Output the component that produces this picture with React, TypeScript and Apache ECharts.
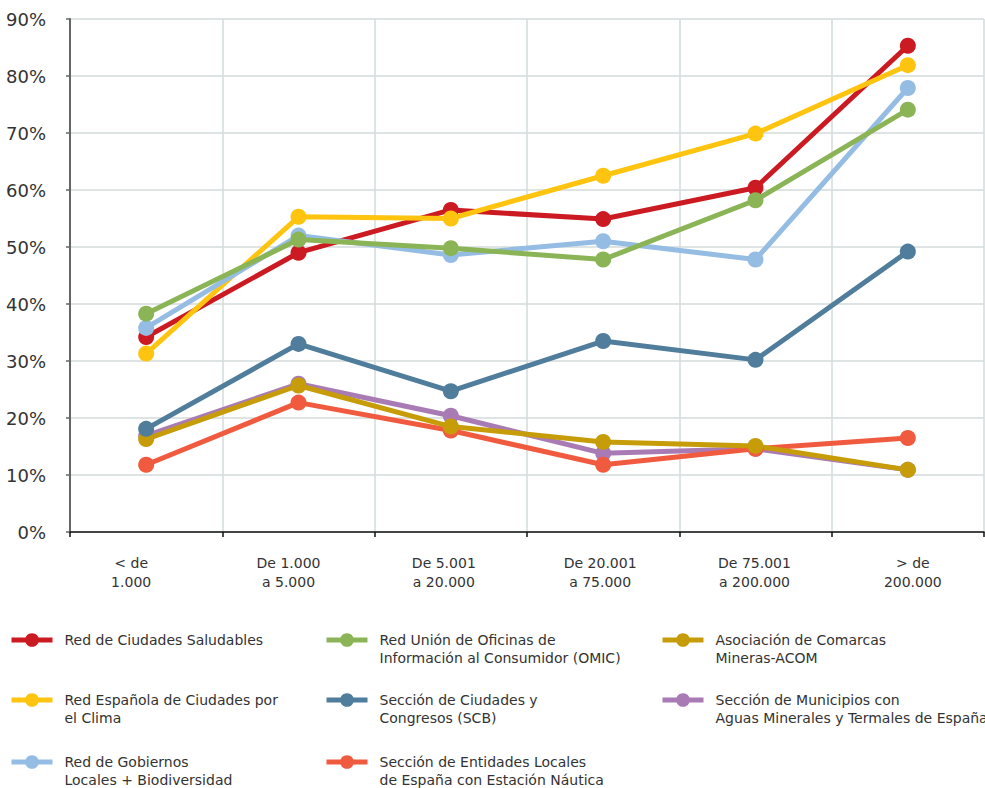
import React, { useEffect, useRef } from "react";
import * as echarts from "echarts";

const categories = [
  "< de\n1.000",
  "De 1.000\na 5.000",
  "De 5.001\na 20.000",
  "De 20.001\na 75.000",
  "De 75.001\na 200.000",
  "> de\n200.000",
];

const saludables = [34.2, 49.0, 56.5, 54.9, 60.4, 85.3];
const clima = [31.3, 55.3, 55.0, 62.5, 69.9, 81.9];
const biodiversidad = [35.8, 52.0, 48.6, 51.0, 47.8, 77.9];
const omic = [38.3, 51.3, 49.8, 47.8, 58.2, 74.1];
const congresos = [18.1, 33.0, 24.7, 33.5, 30.2, 49.2];
const nautica = [11.8, 22.7, 17.8, 11.8, 14.6, 16.5];
const acom = [16.3, 25.7, 18.5, 15.8, 15.1, 10.9];
const termales = [16.9, 26.0, 20.4, 13.8, 14.6, 10.9];

const names = {
  saludables: "Red de Ciudades Saludables",
  clima: "Red Española de Ciudades por el Clima",
  biodiversidad: "Red de Gobiernos Locales + Biodiversidad",
  omic: "Red Unión de Oficinas de Información al Consumidor (OMIC)",
  congresos: "Sección de Ciudades y Congresos (SCB)",
  nautica: "Sección de Entidades Locales de España con Estación Náutica",
  acom: "Asociación de Comarcas Mineras-ACOM",
  termales: "Sección de Municipios con Aguas Minerales y Termales de España",
};

const legendLines: Record<string, string[]> = {
  [names.saludables]: ["Red de Ciudades Saludables"],
  [names.clima]: ["Red Española de Ciudades por", "el Clima"],
  [names.biodiversidad]: ["Red de Gobiernos", "Locales + Biodiversidad"],
  [names.omic]: ["Red Unión de Oficinas de", "Información al Consumidor (OMIC)"],
  [names.congresos]: ["Sección de Ciudades y", "Congresos (SCB)"],
  [names.nautica]: ["Sección de Entidades Locales", "de España con Estación Náutica"],
  [names.acom]: ["Asociación de Comarcas", "Mineras-ACOM"],
  [names.termales]: ["Sección de Municipios con", "Aguas Minerales y Termales de España"],
};

const colors: Record<string, string> = {
  [names.saludables]: "#CB1A21",
  [names.clima]: "#FFC40F",
  [names.biodiversidad]: "#95BDE4",
  [names.omic]: "#8BB456",
  [names.congresos]: "#4F7D9B",
  [names.nautica]: "#F05B3F",
  [names.acom]: "#C79C09",
  [names.termales]: "#A97BB4",
};

const seriesData: [string, number[]][] = [
  [names.termales, termales],
  [names.nautica, nautica],
  [names.acom, acom],
  [names.congresos, congresos],
  [names.saludables, saludables],
  [names.clima, clima],
  [names.biodiversidad, biodiversidad],
  [names.omic, omic],
];

// legend placement: [name, left, iconCenterY]
const legendPlaces: [string, number, number][] = [
  [names.saludables, 9, 640],
  [names.clima, 9, 700],
  [names.biodiversidad, 9, 762],
  [names.omic, 324, 640],
  [names.congresos, 324, 700],
  [names.nautica, 324, 762],
  [names.acom, 660, 640],
  [names.termales, 660, 700],
];

// horizontal nudge of each category label (px), as in the reference
const labelShift = [-15, -10, -7, -3, -1, 5];

const FONT = "DejaVu Sans";
const LH = 18;

export default function App() {
  const ref = useRef<HTMLDivElement>(null);
  useEffect(() => {
    if (!ref.current) return;
    const chart = echarts.init(ref.current, undefined, { renderer: "svg" });
    const legends = legendPlaces.map(([name, left, cy]) => {
      const lines = legendLines[name];
      const text = lines.length > 1 ? "\n" + lines.join("\n") : lines[0];
      const h = lines.length > 1 ? LH * 3 : LH;
      return {
        data: [name],
        left,
        top: cy - h / 2,
        padding: 0,
        itemWidth: 41,
        itemHeight: 17,
        itemGap: 0,
        selectedMode: false,
        lineStyle: { width: 5 },
        formatter: () => text,
        textStyle: {
          fontFamily: FONT,
          fontSize: 14,
          lineHeight: LH,
          color: "#333",
          padding: [0, 0, 0, 7],
        },
      };
    });
    const rich: Record<string, any> = {};
    labelShift.forEach((s, i) => {
      rich["c" + i] = {
        fontFamily: FONT,
        fontSize: 14,
        lineHeight: 19,
        color: "#333",
        padding: s < 0 ? [0, -2 * s, 0, 0] : [0, 0, 0, 2 * s],
      };
    });
    chart.setOption({
      animation: false,
      textStyle: { fontFamily: FONT },
      grid: { left: 70, right: 1, top: 19, bottom: 256, containLabel: false },
      legend: legends,
      xAxis: {
        type: "category",
        data: categories,
        boundaryGap: true,
        axisLine: { lineStyle: { color: "#111", width: 1.5 } },
        axisTick: { show: true, length: 5, lineStyle: { color: "#111", width: 1.5 } },
        axisLabel: {
          interval: 0,
          margin: 21,
          fontSize: 14,
          lineHeight: 19,
          color: "#333",
          fontFamily: FONT,
          formatter: (v: string, i: number) =>
            v
              .split("\n")
              .map((l) => `{c${i}|${l}}`)
              .join("\n"),
          rich,
        },
        splitLine: { show: true, lineStyle: { color: "#D3DBDA", width: 1.5 } },
      },
      yAxis: {
        type: "value",
        min: 0,
        max: 90,
        interval: 10,
        axisLine: { show: true, lineStyle: { color: "#666", width: 2 } },
        axisTick: { show: true, length: 4, lineStyle: { color: "#666", width: 1.5 } },
        axisLabel: {
          formatter: "{value}%",
          fontSize: 18,
          margin: 24,
          color: "#333",
          fontFamily: FONT,
        },
        splitLine: { show: true, lineStyle: { color: "#D3DBDA", width: 1.5 } },
      },
      series: seriesData.map(([name, data]) => ({
        name,
        type: "line",
        data,
        symbol: "circle",
        symbolSize: 16,
        color: colors[name],
        lineStyle: { width: 5, color: colors[name] },
        itemStyle: { color: colors[name] },
      })),
    });
    return () => chart.dispose();
  }, []);
  return (
    <div
      ref={ref}
      style={{ position: "absolute", left: 0, top: 0, width: 985, height: 788 }}
    />
  );
}
